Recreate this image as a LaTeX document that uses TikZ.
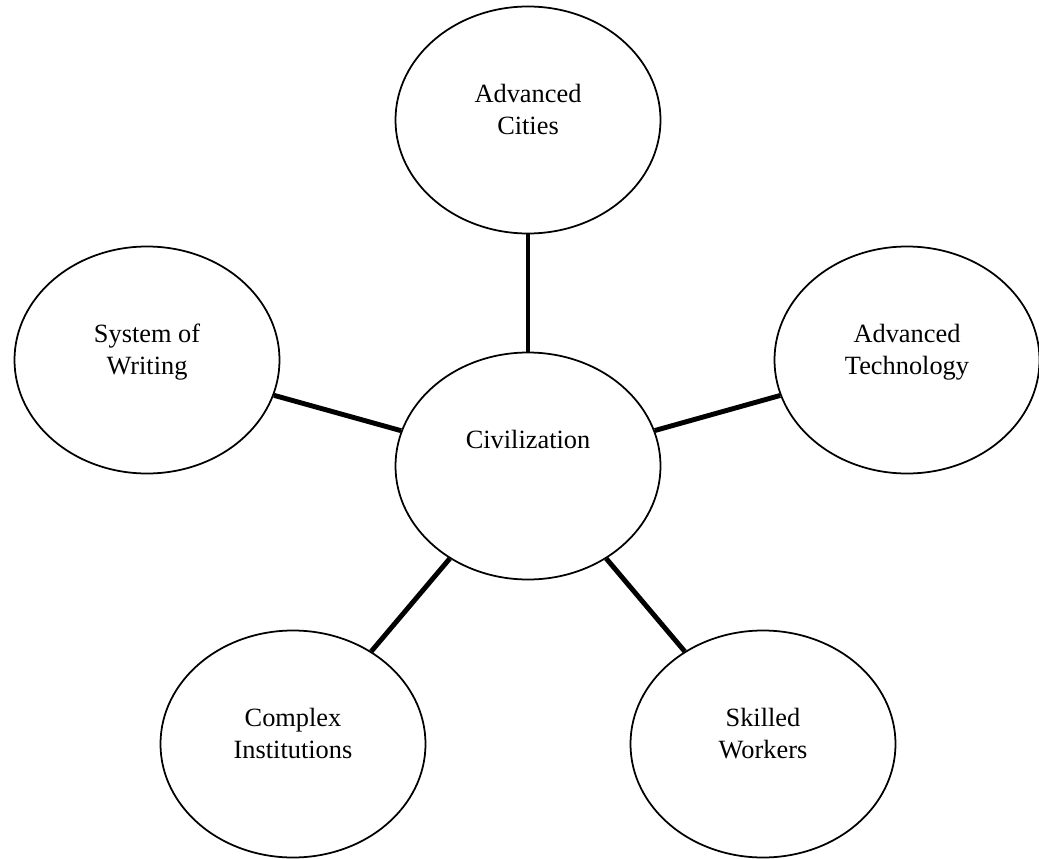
\documentclass[tikz,border=0pt]{standalone}
\usepackage{fontspec}
\setmainfont{Liberation Serif}
\usetikzlibrary{shapes.geometric}

\begin{document}
\begin{tikzpicture}[idea node/.style={ellipse,draw,line width=1pt,minimum width=5.3cm,minimum height=4.54cm,
                      align=center,font=\fontsize{15}{18}\selectfont,text height=0.4cm,text depth=1.12cm},
                    two lines/.style={text height=0.96cm,text depth=0.4cm},
                    link/.style={line width=2.8pt}]
  \useasboundingbox (0,0) rectangle (20.78,17.16);

  \node[idea node] (civ) at (10.56,7.84) {Civilization};
  \node[idea node,two lines] (cities) at (10.56,14.76) {Advanced\\Cities};
  \node[idea node,two lines] (writing) at (2.94,9.96) {System of\\Writing};
  \node[idea node,two lines] (tech) at (18.14,9.96) {Advanced\\Technology};
  \node[idea node,two lines] (inst) at (5.86,2.28) {Complex\\Institutions};
  \node[idea node,two lines] (workers) at (15.26,2.28) {Skilled\\Workers};

  \path[link]
    (civ) edge (cities)
          edge (writing)
          edge (tech)
          edge (inst)
          edge (workers);

\end{tikzpicture}
\end{document}
